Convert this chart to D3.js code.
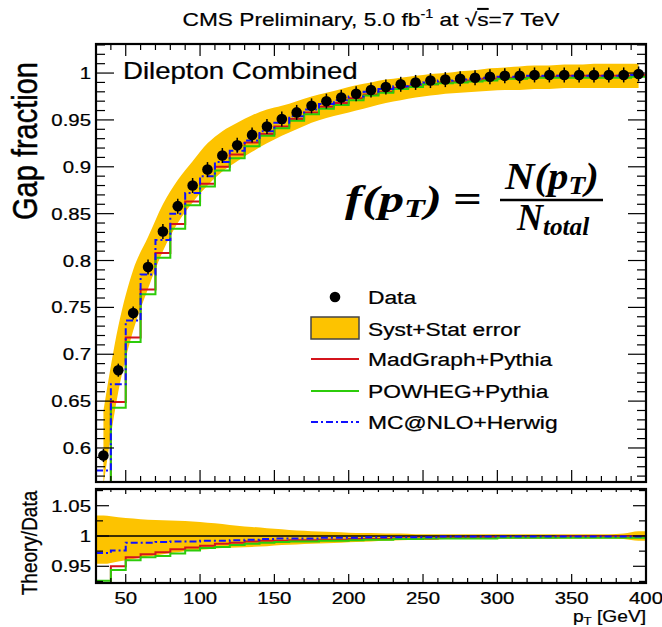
<!DOCTYPE html>
<html><head><meta charset="utf-8">
<script src="https://cdn.jsdelivr.net/npm/d3@7"></script>
<style>body{margin:0;background:#fff} svg{display:block}</style>
</head><body><svg id="c" width="662" height="627"></svg>
<script>
// ---------------- data ----------------
const binEdges = [30,40,50,60,70,80,90,100,110,120,130,140,150,160,170,180,190,200,210,220,230,240,250,260,270,280,290,300,310,320,330,340,350,360,370,380,390,400];
const binCenters = [35,45,55,65,75,85,95,105,115,125,135,145,155,165,175,185,195,205,215,225,235,245,255,265,275,285,295,305,315,325,335,345,355,365,375,385,395];
const dataY = [0.592,0.683,0.744,0.793,0.831,0.858,0.880,0.897,0.912,0.923,0.934,0.943,0.951,0.958,0.965,0.970,0.974,0.978,0.982,0.985,0.988,0.990,0.992,0.993,0.994,0.995,0.996,0.997,0.997,0.998,0.998,0.998,0.998,0.998,0.998,0.998,0.999];
const dataErr = [0.007,0.007,0.007,0.008,0.008,0.008,0.008,0.008,0.008,0.008,0.008,0.008,0.008,0.008,0.008,0.008,0.008,0.008,0.008,0.008,0.008,0.008,0.008,0.008,0.008,0.008,0.008,0.008,0.008,0.008,0.008,0.008,0.008,0.008,0.008,0.008,0.008];
const bandUp = [0.640,0.730,0.790,0.825,0.860,0.886,0.906,0.925,0.938,0.947,0.955,0.961,0.965,0.970,0.975,0.979,0.983,0.987,0.990,0.993,0.995,0.997,0.999,1.000,1.002,1.003,1.005,1.006,1.007,1.008,1.008,1.009,1.009,1.010,1.010,1.010,1.010];
const bandLo = [0.560,0.660,0.725,0.770,0.810,0.840,0.862,0.880,0.895,0.906,0.916,0.925,0.933,0.940,0.947,0.952,0.956,0.960,0.964,0.968,0.971,0.974,0.976,0.978,0.979,0.980,0.981,0.982,0.982,0.983,0.983,0.984,0.984,0.984,0.984,0.984,0.984];
const madTop = [0.545,0.649,0.718,0.769,0.808,0.839,0.863,0.882,0.900,0.913,0.926,0.935,0.943,0.951,0.958,0.964,0.968,0.973,0.977,0.980,0.984,0.986,0.988,0.990,0.991,0.992,0.994,0.995,0.995,0.996,0.996,0.997,0.997,0.997,0.997,0.997,0.998];
const powTop = [0.548,0.643,0.713,0.764,0.803,0.834,0.859,0.879,0.896,0.909,0.922,0.933,0.941,0.949,0.956,0.962,0.966,0.971,0.976,0.979,0.983,0.985,0.988,0.989,0.990,0.991,0.992,0.994,0.994,0.995,0.995,0.995,0.995,0.995,0.995,0.995,0.996];
const mcnTop = [0.576,0.668,0.736,0.785,0.822,0.850,0.872,0.890,0.905,0.917,0.928,0.938,0.947,0.954,0.961,0.967,0.971,0.975,0.980,0.983,0.986,0.988,0.990,0.992,0.993,0.994,0.995,0.996,0.996,0.997,0.997,0.997,0.997,0.997,0.997,0.997,0.998];
const madRatio = [0.921,0.950,0.965,0.970,0.973,0.978,0.981,0.984,0.987,0.989,0.991,0.992,0.992,0.993,0.993,0.994,0.994,0.995,0.995,0.995,0.996,0.996,0.996,0.997,0.997,0.997,0.998,0.998,0.998,0.998,0.998,0.999,0.999,0.999,0.999,0.999,0.999];
const powRatio = [0.926,0.944,0.960,0.965,0.967,0.971,0.976,0.980,0.982,0.985,0.987,0.989,0.990,0.991,0.991,0.992,0.992,0.993,0.994,0.994,0.995,0.995,0.996,0.996,0.996,0.996,0.996,0.997,0.997,0.997,0.997,0.997,0.997,0.997,0.997,0.997,0.997];
const mcnRatio = [0.972,0.976,0.989,0.989,0.990,0.991,0.991,0.992,0.992,0.993,0.994,0.995,0.996,0.996,0.996,0.997,0.997,0.997,0.998,0.998,0.998,0.998,0.998,0.999,0.999,0.999,0.999,0.999,0.999,0.999,0.999,0.999,0.999,0.999,0.999,0.999,0.999];
const ratioBandUp = [1.034,1.031,1.029,1.027,1.026,1.025,1.024,1.022,1.020,1.017,1.015,1.013,1.011,1.009,1.008,1.007,1.006,1.005,1.005,1.004,1.004,1.003,1.003,1.003,1.003,1.003,1.003,1.003,1.003,1.003,1.003,1.003,1.003,1.003,1.003,1.004,1.008];
const ratioBandLo = [0.954,0.958,0.962,0.966,0.970,0.973,0.976,0.978,0.980,0.981,0.982,0.983,0.985,0.986,0.987,0.988,0.989,0.990,0.991,0.992,0.993,0.994,0.994,0.995,0.995,0.995,0.996,0.996,0.996,0.996,0.996,0.996,0.996,0.996,0.996,0.995,0.992];
const xTickVals = [50,100,150,200,250,300,350,400];
const xTickLabels = ["50","100","150","200","250","300","350","400"];
const yTopTickVals = [0.6,0.65,0.7,0.75,0.8,0.85,0.9,0.95,1.0];
const yTopTickLabels = ["0.6","0.65","0.7","0.75","0.8","0.85","0.9","0.95","1"];
const yBotTickVals = [0.95,1.0,1.05];
const yBotTickLabels = ["0.95","1","1.05"];
const seriesNames = ["MadGraph+Pythia","POWHEG+Pythia","MC@NLO+Herwig"];

// ---------------- setup ----------------
const svg = d3.select("#c");
const SANS = "'Liberation Sans', Arial, Helvetica, sans-serif";
const SERIF = "'Liberation Serif', 'Times New Roman', serif";
const SX = 1.2;
const YEL = "#fdc300", RED = "#d4141c", GREEN = "#2ccc0a", BLUE = "#1010ff";

const x = d3.scaleLinear().domain([30,400]).range([96,646]);
const yT = d3.scaleLinear().domain([0.5637,1.031]).range([482,44]);
const yB = d3.scaleLinear().domain([0.9224,1.0776]).range([583,489]);

const defs = svg.append("defs");
function clip(id, ys){
  defs.append("clipPath").attr("id",id).append("rect")
    .attr("x",x.range()[0]).attr("y",ys.range()[1])
    .attr("width",x.range()[1]-x.range()[0]).attr("height",ys.range()[0]-ys.range()[1]);
}
clip("clipT", yT); clip("clipB", yB);

function txt(g, px, py, str, size, anchor, family){
  return g.append("text").attr("transform",`translate(${px},${py}) scale(${SX},1)`)
    .attr("text-anchor",anchor||"start").attr("font-family",family||SANS)
    .attr("font-size",size).attr("fill","#000").attr("stroke","#000").attr("stroke-width",0.25).text(str);
}
// scale a text horizontally so that its width equals targetW
function fitW(sel, px, py, targetW){
  sel.attr("transform",`translate(${px},${py})`);
  const w = sel.node().getBBox().width;
  sel.attr("transform",`translate(${px},${py}) scale(${targetW/w},1)`);
}

function stepPts(vals){
  const p = vals.map((v,i)=>[binEdges[i],v]);
  p.push([binEdges[vals.length], vals[vals.length-1]]);
  return p;
}
function stepPath(g, ys, vals, color, dash){
  const line = d3.line().curve(d3.curveStepAfter).x(d=>x(d[0])).y(d=>ys(d[1]));
  const p = g.append("path").datum(stepPts(vals)).attr("d",line)
    .attr("fill","none").attr("stroke",color).attr("stroke-width",2);
  if(dash) p.attr("stroke-dasharray",dash);
}
const DASH = "7,3,2,3";

// ---------------- top panel ----------------
const gT = svg.append("g").attr("clip-path","url(#clipT)");
const bandPts = binCenters.map((c,i)=>({x:c,up:bandUp[i],lo:bandLo[i]}));
gT.append("path").datum(bandPts)
  .attr("d", d3.area().curve(d3.curveMonotoneX).x(d=>x(d.x)).y0(d=>yT(d.lo)).y1(d=>yT(d.up)))
  .attr("fill",YEL);
stepPath(gT, yT, madTop, RED);
stepPath(gT, yT, powTop, GREEN);
stepPath(gT, yT, mcnTop, BLUE, DASH);
const pts = binCenters.map((c,i)=>({x:c,y:dataY[i],e:dataErr[i]}));
gT.selectAll("line.err").data(pts).join("line").attr("class","err")
  .attr("x1",d=>x(d.x)).attr("x2",d=>x(d.x))
  .attr("y1",d=>yT(d.y-d.e)).attr("y2",d=>yT(d.y+d.e))
  .attr("stroke","#000").attr("stroke-width",1.5);
gT.selectAll("circle.pt").data(pts).join("circle").attr("class","pt")
  .attr("cx",d=>x(d.x)).attr("cy",d=>yT(d.y)).attr("r",5.3).attr("fill","#000");

// ---------------- bottom panel ----------------
const gB = svg.append("g").attr("clip-path","url(#clipB)");
const rbPts = [{x:x.domain()[0],up:ratioBandUp[0],lo:ratioBandLo[0]}]
  .concat(binCenters.map((c,i)=>({x:c,up:ratioBandUp[i],lo:ratioBandLo[i]})))
  .concat([{x:x.domain()[1],up:ratioBandUp[ratioBandUp.length-1],lo:ratioBandLo[ratioBandLo.length-1]}]);
gB.append("path").datum(rbPts)
  .attr("d", d3.area().curve(d3.curveMonotoneX).x(d=>x(d.x)).y0(d=>yB(d.lo)).y1(d=>yB(d.up)))
  .attr("fill",YEL);
gB.append("line").attr("x1",x.range()[0]).attr("x2",x.range()[1])
  .attr("y1",yB(1)).attr("y2",yB(1)).attr("stroke","#000").attr("stroke-width",1.6);
stepPath(gB, yB, madRatio, RED);
stepPath(gB, yB, powRatio, GREEN);
stepPath(gB, yB, mcnRatio, BLUE, DASH);

// ---------------- ticks ----------------
const gAx = svg.append("g").attr("stroke","#000").attr("stroke-width",1.2);
function yTicks(ys, vals, len){
  const [x0,x1] = x.range();
  gAx.append("g").selectAll("line").data(vals).join("line")
    .attr("x1",x0).attr("x2",x0+len).attr("y1",d=>ys(d)).attr("y2",d=>ys(d));
  gAx.append("g").selectAll("line").data(vals).join("line")
    .attr("x1",x1).attr("x2",x1-len).attr("y1",d=>ys(d)).attr("y2",d=>ys(d));
}
function xTicks(ys, vals, lenBot, lenTop){
  const [yb,yt] = ys.range();
  gAx.append("g").selectAll("line").data(vals).join("line")
    .attr("x1",d=>x(d)).attr("x2",d=>x(d)).attr("y1",yb).attr("y2",yb-lenBot);
  gAx.append("g").selectAll("line").data(vals).join("line")
    .attr("x1",d=>x(d)).attr("x2",d=>x(d)).attr("y1",yt).attr("y2",yt+lenTop);
}
const xMinor = d3.range(30,401,10).filter(v=>v%50!==0);
yTicks(yT, yTopTickVals, 18);
yTicks(yT, d3.range(0.57,1.031,0.01).filter(v=>Math.abs(v*20-Math.round(v*20))>1e-6), 9);
xTicks(yT, xTickVals, 12, 12);
xTicks(yT, xMinor, 6, 6);
yTicks(yB, yBotTickVals, 13);
yTicks(yB, [0.925,0.975,1.025,1.075], 7);
xTicks(yB, xTickVals, 9, 5);
xTicks(yB, xMinor, 5, 3);

// frames
[yT,yB].forEach(ys=>{
  svg.append("rect").attr("x",x.range()[0]).attr("y",ys.range()[1])
    .attr("width",x.range()[1]-x.range()[0]).attr("height",ys.range()[0]-ys.range()[1])
    .attr("fill","none").attr("stroke","#000").attr("stroke-width",2.2);
});

// ---------------- labels ----------------
const gL = svg.append("g");
yTopTickVals.forEach((v,i)=>txt(gL, 91, yT(v)+6, yTopTickLabels[i], 17, "end"));
yBotTickVals.forEach((v,i)=>txt(gL, 91, yB(v)+6, yBotTickLabels[i], 17, "end"));
xTickVals.forEach((v,i)=>txt(gL, x(v), 604, xTickLabels[i], 17, "middle"));

const xt = txt(gL, 646, 622, "", 16, "end");
xt.append("tspan").text("p");
xt.append("tspan").attr("font-size",11).attr("dy",3).text("T");
xt.append("tspan").attr("dy",-3).text(" [GeV]");

gL.append("text").attr("transform",`translate(37,141) scale(${SX},1) rotate(-90)`)
  .attr("text-anchor","middle").attr("font-family",SANS).attr("font-size",29)
  .attr("stroke","#000").attr("stroke-width",0.4).text("Gap fraction");
gL.append("text").attr("transform",`translate(37,543) scale(${SX},1) rotate(-90)`)
  .attr("text-anchor","middle").attr("font-family",SANS).attr("font-size",19)
  .attr("stroke","#000").attr("stroke-width",0.25).text("Theory/Data");

// title
const tt = gL.append("text").attr("x",371).attr("y",26).attr("text-anchor","middle")
  .attr("font-family",SANS).attr("font-size",19).attr("stroke","#000").attr("stroke-width",0.2)
  .attr("textLength",377).attr("lengthAdjust","spacingAndGlyphs");
tt.append("tspan").text("CMS Preliminary, 5.0 fb");
tt.append("tspan").attr("font-size",12).attr("dy",-8).text("-1");
tt.append("tspan").attr("dy",8).text(" at \u221A");
tt.append("tspan").style("text-decoration","overline").text("s");
tt.append("tspan").text("=7 TeV");

txt(gL, 123, 79, "Dilepton Combined", 23, "start");

// formula
function ftext(){
  return gL.append("text").attr("font-family",SERIF).attr("font-weight","bold")
    .attr("font-style","italic").attr("font-size",37);
}
const fl = ftext();
fl.append("tspan").text("f(p");
fl.append("tspan").attr("font-size",25).attr("dy",5).text("T");
fl.append("tspan").attr("dy",-5).text(")");
fitW(fl, 345, 212, 97);
const feq = ftext().attr("font-style","normal").text("=");
fitW(feq, 453, 212, 29);
gL.append("line").attr("x1",500).attr("x2",603).attr("y1",200).attr("y2",200).attr("stroke","#000").attr("stroke-width",2.5);
const fn = ftext();
fn.append("tspan").text("N(p");
fn.append("tspan").attr("font-size",25).attr("dy",5).text("T");
fn.append("tspan").attr("dy",-5).text(")");
fitW(fn, 505, 189, 95);
const fd = ftext();
fd.append("tspan").text("N");
fd.append("tspan").attr("font-size",26).attr("dy",5).text("total");
fitW(fd, 517, 230, 74);

// legend
const lg = svg.append("g");
lg.append("circle").attr("cx",335).attr("cy",297).attr("r",5.3).attr("fill","#000");
txt(lg, 368, 304, "Data", 19);
lg.append("rect").attr("x",311).attr("y",317).attr("width",48).attr("height",22).attr("fill",YEL).attr("stroke","#444").attr("stroke-width",1.5);
txt(lg, 368, 336, "Syst+Stat error", 19);
const lgCols = [RED, GREEN, BLUE];
const lgY = [359, 391, 422];
seriesNames.forEach((n,i)=>{
  const l = lg.append("line").attr("x1",311).attr("x2",359).attr("y1",lgY[i]).attr("y2",lgY[i])
    .attr("stroke",lgCols[i]).attr("stroke-width",2);
  if(i===2) l.attr("stroke-dasharray",DASH);
  txt(lg, 368, lgY[i]+7, n, 19);
});
</script></body></html>
